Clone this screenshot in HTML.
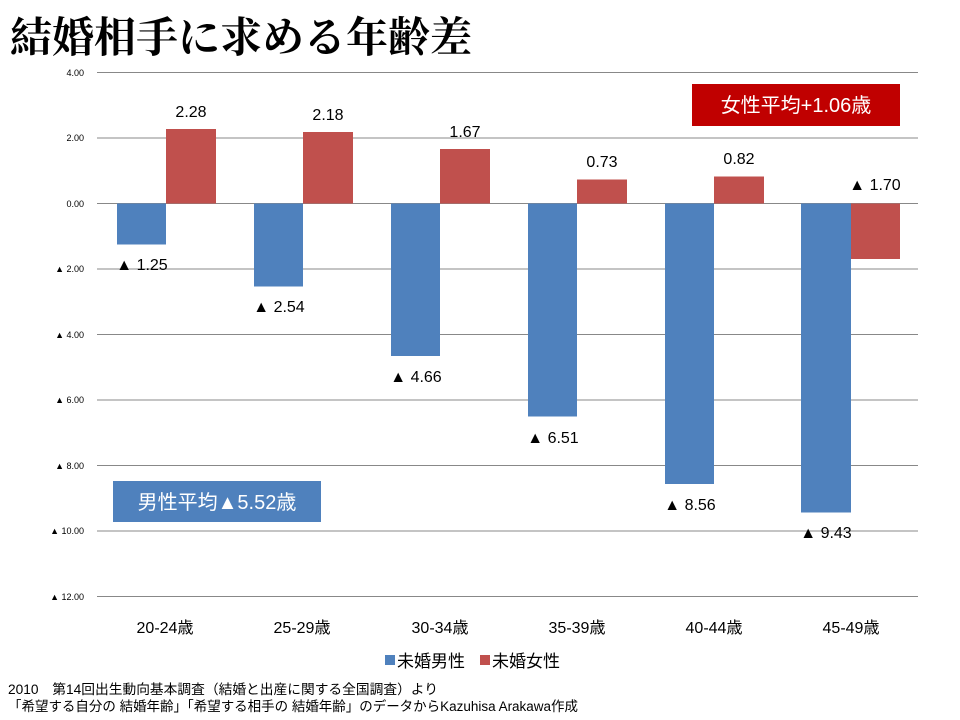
<!DOCTYPE html>
<html><head><meta charset="utf-8"><style>
body{margin:0;background:#fff;}
svg{display:block;font-family:"Liberation Sans","Noto Sans CJK JP",sans-serif;}
</style></head><body>
<svg width="960" height="720" viewBox="0 0 960 720">
<text x="10" y="52" font-family="'Noto Serif CJK SC',serif" font-size="42" font-weight="bold" fill="#000">結婚相手に求める年齢差</text>
<g stroke="#888" stroke-width="1">
<line x1="97" x2="918" y1="72.5" y2="72.5"/>
<line x1="97" x2="918" y1="138" y2="138"/>
<line x1="97" x2="918" y1="203.5" y2="203.5"/>
<line x1="97" x2="918" y1="269" y2="269"/>
<line x1="97" x2="918" y1="334.5" y2="334.5"/>
<line x1="97" x2="918" y1="400" y2="400"/>
<line x1="97" x2="918" y1="465.5" y2="465.5"/>
<line x1="97" x2="918" y1="531" y2="531"/>
<line x1="97" x2="918" y1="596.5" y2="596.5"/>
</g>
<g font-size="9" fill="#000" text-anchor="end">
<text x="84" y="76">4.00</text>
<text x="84" y="141">2.00</text>
<text x="84" y="207">0.00</text>
<text x="84" y="272">▲ 2.00</text>
<text x="84" y="338">▲ 4.00</text>
<text x="84" y="403">▲ 6.00</text>
<text x="84" y="469">▲ 8.00</text>
<text x="84" y="534">▲ 10.00</text>
<text x="84" y="600">▲ 12.00</text>
</g>
<g fill="#4f81bd">
<rect x="117" y="203.5" width="49" height="41"/>
<rect x="254" y="203.5" width="49" height="83"/>
<rect x="391" y="203.5" width="49" height="152.5"/>
<rect x="528" y="203.5" width="49" height="213"/>
<rect x="665" y="203.5" width="49" height="280.5"/>
<rect x="801" y="203.5" width="50" height="309"/>
</g>
<g fill="#c0504d">
<rect x="166" y="129" width="50" height="74.5"/>
<rect x="303" y="132" width="50" height="71.5"/>
<rect x="440" y="149" width="50" height="54.5"/>
<rect x="577" y="179.5" width="50" height="24"/>
<rect x="714" y="176.5" width="50" height="27"/>
<rect x="851" y="203.5" width="49" height="55.5"/>
</g>
<g font-size="16" fill="#000" text-anchor="middle">
<text x="191" y="117">2.28</text>
<text x="328" y="120">2.18</text>
<text x="465" y="137">1.67</text>
<text x="602" y="167">0.73</text>
<text x="739" y="164">0.82</text>
<text x="875" y="190">▲ 1.70</text>
<text x="142" y="270">▲ 1.25</text>
<text x="279" y="312">▲ 2.54</text>
<text x="416" y="382">▲ 4.66</text>
<text x="553" y="443">▲ 6.51</text>
<text x="690" y="510">▲ 8.56</text>
<text x="826" y="538">▲ 9.43</text>
</g>
<g font-size="16" fill="#000" text-anchor="middle">
<text x="165" y="633">20-24歳</text>
<text x="302" y="633">25-29歳</text>
<text x="440" y="633">30-34歳</text>
<text x="577" y="633">35-39歳</text>
<text x="714" y="633">40-44歳</text>
<text x="851" y="633">45-49歳</text>
</g>
<rect x="385" y="655" width="10" height="10" fill="#4f81bd"/>
<text x="397" y="667" font-size="17">未婚男性</text>
<rect x="480" y="655" width="10" height="10" fill="#c0504d"/>
<text x="492" y="667" font-size="17">未婚女性</text>
<rect x="692" y="84" width="208" height="42" fill="#c00000"/>
<text x="796" y="112" font-size="20" fill="#fff" text-anchor="middle">女性平均+1.06歳</text>
<rect x="113" y="481" width="208" height="41" fill="#4f81bd"/>
<text x="217" y="509" font-size="20" fill="#fff" text-anchor="middle">男性平均▲5.52歳</text>
<text x="8" y="694" font-size="13.5" textLength="430" lengthAdjust="spacingAndGlyphs">2010　第14回出生動向基本調査（結婚と出産に関する全国調査）より</text>
<text x="8" y="711" font-size="13.5" textLength="570" lengthAdjust="spacingAndGlyphs">「希望する自分の 結婚年齢」「希望する相手の 結婚年齢」のデータからKazuhisa Arakawa作成</text>
</svg>
</body></html>
